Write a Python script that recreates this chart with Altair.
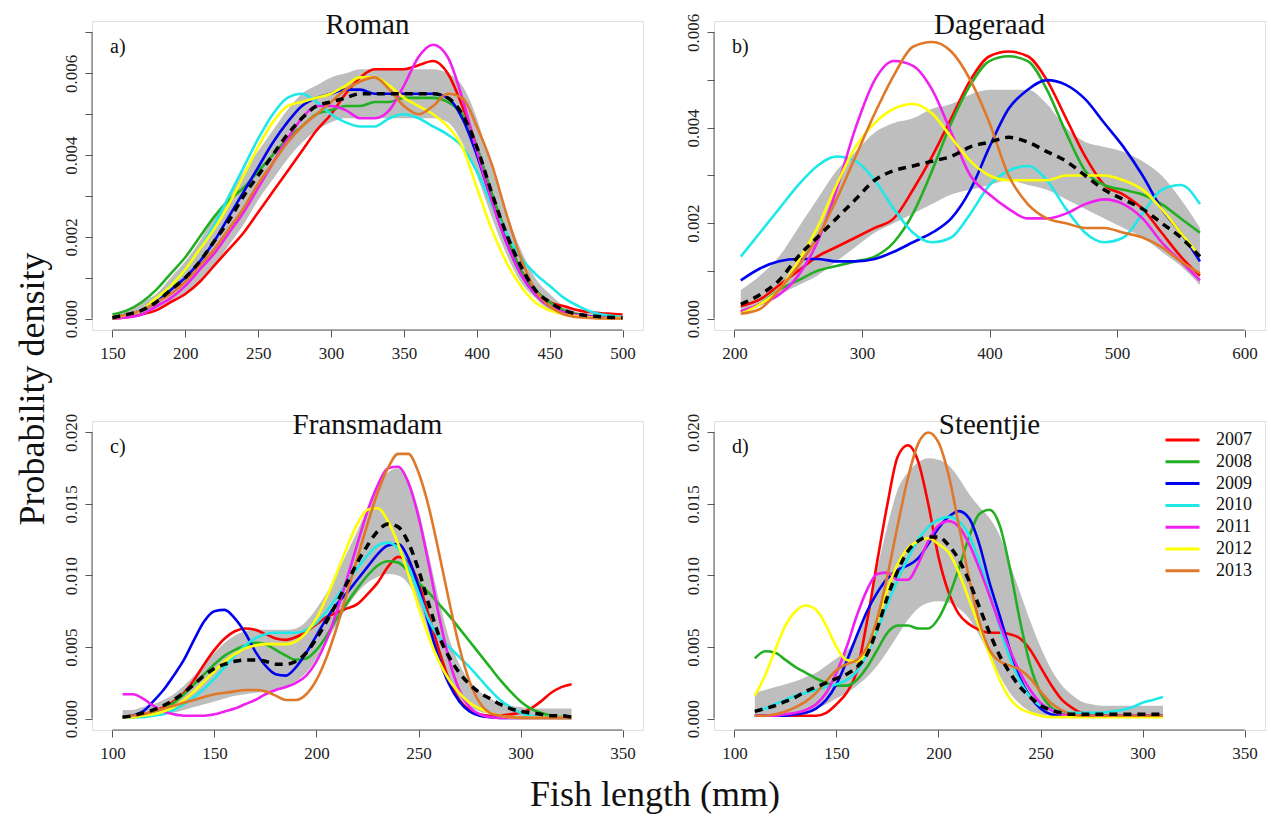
import altair as alt
import pandas as pd

FONT = "Liberation Serif"
YEARS = ["2007", "2008", "2009", "2010", "2011", "2012", "2013"]
COLORS = ["#FF0000", "#22B022", "#0000F0", "#1EE8E8", "#F020F0", "#FFFF00", "#E0782A"]
BAND = "#BEBEBE"
AXC = "#555555"

# ---------------- Panel a) Roman ----------------
A_X = list(range(150, 501, 10))
A_2007 = [0.0, 0.00003, 0.0001, 0.0002, 0.0004, 0.0006, 0.0009, 0.0013, 0.0017, 0.0021, 0.0026, 0.0031,
          0.0036, 0.0041, 0.0046, 0.0050, 0.0055, 0.0059, 0.0061, 0.0061, 0.0061, 0.0062, 0.0063, 0.0060,
          0.0052, 0.0042, 0.0030, 0.0020, 0.0012, 0.0007, 0.0004, 0.0003, 0.0002, 0.00015, 0.00012, 0.0001]
A_2008 = [0.0001, 0.0002, 0.0004, 0.0007, 0.0011, 0.0015, 0.0020, 0.0025, 0.0029, 0.0032, 0.0036, 0.0040,
          0.0044, 0.0047, 0.0050, 0.0051, 0.0052, 0.0052, 0.0053, 0.0053, 0.0054, 0.0054, 0.0054, 0.0053,
          0.0050, 0.0042, 0.0031, 0.0021, 0.0012, 0.0007, 0.0004, 0.0002, 0.0001, 0.00005, 0.00003, 0.00002]
A_2009 = [0.0, 0.0001, 0.0002, 0.0004, 0.0007, 0.0010, 0.0014, 0.0019, 0.0025, 0.0031, 0.0037, 0.0043,
          0.0048, 0.0052, 0.0054, 0.0055, 0.0056, 0.0056, 0.0055, 0.0055, 0.0055, 0.0055, 0.0055, 0.0054,
          0.0049, 0.0040, 0.0029, 0.0019, 0.0011, 0.0006, 0.0003, 0.00015, 0.00008, 0.00005, 0.00003, 0.00002]
A_2010 = [0.0, 0.0001, 0.0002, 0.0005, 0.0008, 0.0012, 0.0017, 0.0023, 0.0030, 0.0037, 0.0044, 0.0050,
          0.0054, 0.0055, 0.0053, 0.0050, 0.0048, 0.0047, 0.0047, 0.0049, 0.0050, 0.0049, 0.0047, 0.0045,
          0.0042, 0.0036, 0.0028, 0.0021, 0.0015, 0.0011, 0.0008, 0.0005, 0.0003, 0.00015, 0.00008, 0.00004]
A_2011 = [0.0, 0.00003, 0.0001, 0.0003, 0.0005, 0.0008, 0.0012, 0.0016, 0.0021, 0.0026, 0.0032, 0.0038,
          0.0044, 0.0049, 0.0052, 0.0052, 0.0051, 0.0049, 0.0049, 0.0051, 0.0057, 0.0064, 0.0067, 0.0064,
          0.0054, 0.0041, 0.0029, 0.0019, 0.0011, 0.0006, 0.0003, 0.00015, 0.00008, 0.00004, 0.00002, 0.00001]
A_2012 = [0.0, 0.0001, 0.0002, 0.0005, 0.0008, 0.0012, 0.0017, 0.0022, 0.0028, 0.0035, 0.0042, 0.0048,
          0.0052, 0.0053, 0.0054, 0.0055, 0.0057, 0.0059, 0.0059, 0.0057, 0.0054, 0.0052, 0.0050, 0.0047,
          0.0042, 0.0032, 0.0022, 0.0014, 0.0008, 0.0004, 0.0002, 0.0001, 0.00005, 0.00002, 0.00001, 0.00001]
A_2013 = [0.00003, 0.0001, 0.0002, 0.0004, 0.0006, 0.0009, 0.0013, 0.0017, 0.0022, 0.0027, 0.0033, 0.0038,
          0.0043, 0.0047, 0.0050, 0.0053, 0.0056, 0.0058, 0.0059, 0.0056, 0.0052, 0.0050, 0.0052, 0.0055,
          0.0054, 0.0047, 0.0038, 0.0026, 0.0015, 0.0007, 0.0003, 0.0001, 0.00003, 0.00001, 0.0, 0.0]
A_MEAN = [0.00002, 0.0001, 0.0002, 0.0004, 0.0007, 0.0010, 0.0014, 0.0019, 0.0024, 0.0030, 0.0035, 0.0040,
          0.0045, 0.0049, 0.0052, 0.0053, 0.0054, 0.0055, 0.0055, 0.0055, 0.0055, 0.0055, 0.0055, 0.0054,
          0.0050, 0.0042, 0.0031, 0.0021, 0.0013, 0.0007, 0.0004, 0.0002, 0.0001, 0.00006, 0.00003, 0.00002]
A_LO = [0.0, 0.00005, 0.0001, 0.0002, 0.0004, 0.0006, 0.0009, 0.0013, 0.0018, 0.0023, 0.0029, 0.0034,
        0.0039, 0.0043, 0.0046, 0.0048, 0.0049, 0.0049, 0.0049, 0.0049, 0.0049, 0.0049, 0.0049, 0.0048,
        0.0043, 0.0035, 0.0025, 0.0016, 0.0009, 0.0005, 0.0002, 0.0001, 0.00005, 0.00002, 0.00001, 0.0]
A_HI = [0.00005, 0.0002, 0.0004, 0.0006, 0.0010, 0.0014, 0.0019, 0.0025, 0.0030, 0.0036, 0.0041, 0.0046,
        0.0051, 0.0055, 0.0057, 0.0059, 0.0060, 0.0061, 0.0061, 0.0061, 0.0061, 0.0061, 0.0061, 0.0060,
        0.0057, 0.0049, 0.0037, 0.0026, 0.0017, 0.0010, 0.0006, 0.0003, 0.00015, 0.0001, 0.00005, 0.00004]

# ---------------- Panel b) Dageraad ----------------
B_X = list(range(205, 566, 15))
B_2007 = [0.00026, 0.0004, 0.0007, 0.0010, 0.0013, 0.0015, 0.0017, 0.0019, 0.0021, 0.0027, 0.0034, 0.0042,
          0.0050, 0.0055, 0.0056, 0.0055, 0.0050, 0.0042, 0.0034, 0.0028, 0.0026, 0.0023, 0.0018, 0.0013, 0.0009]
B_2008 = [0.00015, 0.0003, 0.0006, 0.0008, 0.0010, 0.0011, 0.0012, 0.0013, 0.0016, 0.0022, 0.0031, 0.0041,
          0.0049, 0.0054, 0.0055, 0.0054, 0.0048, 0.0039, 0.0031, 0.0028, 0.0027, 0.0026, 0.0024, 0.0021, 0.0018]
B_2009 = [0.0008, 0.00105, 0.0012, 0.00125, 0.00125, 0.0012, 0.0012, 0.00125, 0.0014, 0.0016, 0.0018, 0.0021,
          0.0027, 0.0036, 0.0044, 0.0048, 0.0050, 0.0049, 0.0046, 0.0041, 0.0036, 0.0030, 0.0023, 0.0018, 0.0012]
B_2010 = [0.0013, 0.0018, 0.0023, 0.0028, 0.0032, 0.0034, 0.0033, 0.0029, 0.0023, 0.0018, 0.0016, 0.0017,
          0.0022, 0.0028, 0.0031, 0.0032, 0.0029, 0.0023, 0.0018, 0.0016, 0.0017, 0.0022, 0.0027, 0.0028, 0.0024]
B_2011 = [0.00015, 0.0003, 0.0005, 0.0009, 0.0016, 0.0027, 0.0040, 0.0050, 0.0054, 0.0053, 0.0048, 0.0039,
          0.0030, 0.0026, 0.0023, 0.0021, 0.0021, 0.0022, 0.0024, 0.0025, 0.0024, 0.0021, 0.0016, 0.0012, 0.0008]
B_2012 = [0.0001, 0.0003, 0.0006, 0.0012, 0.0019, 0.0028, 0.0036, 0.0041, 0.0044, 0.0045, 0.0043, 0.0038,
          0.0033, 0.0030, 0.0029, 0.0029, 0.0029, 0.0030, 0.0030, 0.0030, 0.0029, 0.0027, 0.0023, 0.0018, 0.0013]
B_2013 = [0.0001, 0.0002, 0.0006, 0.0011, 0.0017, 0.0025, 0.0034, 0.0043, 0.0051, 0.0057, 0.0058, 0.0056,
          0.0050, 0.0041, 0.0030, 0.0024, 0.0021, 0.0020, 0.0019, 0.0019, 0.0018, 0.0017, 0.0015, 0.0012, 0.00095]
B_MEAN = [0.0003, 0.0005, 0.0008, 0.0013, 0.0017, 0.0021, 0.0025, 0.0029, 0.0031, 0.0032, 0.0033, 0.0034,
          0.0036, 0.0037, 0.0038, 0.0037, 0.0035, 0.0033, 0.0030, 0.0027, 0.0025, 0.0023, 0.0020, 0.0017, 0.0013]
B_LO = [0.00015, 0.0003, 0.0005, 0.0007, 0.0009, 0.0012, 0.0015, 0.0018, 0.0020, 0.0022, 0.0024, 0.0026,
        0.0027, 0.0028, 0.0029, 0.0028, 0.0027, 0.0025, 0.0023, 0.0021, 0.0019, 0.0017, 0.0014, 0.0011, 0.0007]
B_HI = [0.0006, 0.0009, 0.0013, 0.0019, 0.0025, 0.0031, 0.0035, 0.0039, 0.0041, 0.0042, 0.0044, 0.0045,
        0.0047, 0.0048, 0.0048, 0.0048, 0.0045, 0.0040, 0.0037, 0.0036, 0.0035, 0.0033, 0.0030, 0.0025, 0.0019]

# ---------------- Panel c) Fransmadam ----------------
C_X = list(range(105, 326, 5))
C_2007 = [0.0001, 0.0002, 0.0003, 0.0005, 0.0008, 0.0012, 0.0018, 0.0027, 0.0038, 0.0048, 0.0056, 0.0061,
          0.0063, 0.0062, 0.0059, 0.0056, 0.0055, 0.0057, 0.0061, 0.0066, 0.0071, 0.0074, 0.0077, 0.0080,
          0.0087, 0.0095, 0.0106, 0.0113, 0.0109, 0.0095, 0.0072, 0.0048, 0.0027, 0.0013, 0.0006, 0.0003,
          0.0002, 0.0002, 0.0003, 0.0004, 0.0007, 0.0012, 0.0018, 0.0022, 0.0024]
C_2008 = [0.0001, 0.0001, 0.0002, 0.0004, 0.0007, 0.0011, 0.0017, 0.0024, 0.0031, 0.0038, 0.0044, 0.0048,
          0.0051, 0.0053, 0.0052, 0.0048, 0.0044, 0.0041, 0.0042, 0.0048, 0.0058, 0.0070, 0.0081, 0.0091,
          0.0100, 0.0107, 0.0110, 0.0109, 0.0103, 0.0095, 0.0088, 0.0080, 0.0072, 0.0063, 0.0054, 0.0045,
          0.0036, 0.0027, 0.0019, 0.0012, 0.0007, 0.0004, 0.0002, 0.0001, 0.0001]
C_2009 = [0.0001, 0.0002, 0.0005, 0.0012, 0.0020, 0.0030, 0.0041, 0.0055, 0.0068, 0.0075, 0.0076, 0.0070,
          0.0060, 0.0047, 0.0037, 0.0031, 0.0030, 0.0036, 0.0046, 0.0058, 0.0070, 0.0080, 0.0088, 0.0097,
          0.0106, 0.0115, 0.0121, 0.0122, 0.0112, 0.0092, 0.0066, 0.0042, 0.0024, 0.0012, 0.0005, 0.0002,
          0.0001, 0.00005, 0.00005, 0.00005, 0.00005, 0.00005, 0.00005, 0.00005, 0.00005]
C_2010 = [0.0001, 0.0001, 0.0001, 0.0002, 0.0003, 0.0006, 0.0010, 0.0015, 0.0021, 0.0028, 0.0036, 0.0044,
          0.0051, 0.0056, 0.0059, 0.0060, 0.0060, 0.0060, 0.0062, 0.0067, 0.0075, 0.0085, 0.0095, 0.0105,
          0.0114, 0.0121, 0.0123, 0.0119, 0.0106, 0.0088, 0.0069, 0.0057, 0.0050, 0.0043, 0.0036, 0.0028,
          0.0020, 0.0013, 0.0008, 0.0004, 0.0002, 0.0001, 0.0001, 0.00005, 0.00005]
C_2011 = [0.0017, 0.0017, 0.0014, 0.0009, 0.0005, 0.0003, 0.0002, 0.0002, 0.0002, 0.0003, 0.0005, 0.0007,
          0.0010, 0.0013, 0.0017, 0.0020, 0.0022, 0.0025, 0.0030, 0.0040, 0.0055, 0.0075, 0.0098, 0.0122,
          0.0145, 0.0163, 0.0175, 0.0176, 0.0165, 0.0141, 0.0108, 0.0072, 0.0041, 0.0020, 0.0008, 0.0003,
          0.0001, 0.00005, 0.00005, 0.00005, 0.00005, 0.00005, 0.00005, 0.00005, 0.00005]
C_2012 = [0.0001, 0.0001, 0.0002, 0.0003, 0.0005, 0.0008, 0.0013, 0.0019, 0.0026, 0.0033, 0.0040, 0.0045,
          0.0049, 0.0051, 0.0052, 0.0052, 0.0052, 0.0054, 0.0060, 0.0070, 0.0085, 0.0102, 0.0120, 0.0136,
          0.0146, 0.0147, 0.0138, 0.0122, 0.0101, 0.0078, 0.0057, 0.0040, 0.0027, 0.0018, 0.0011, 0.0007,
          0.0004, 0.0002, 0.0001, 0.00005, 0.00005, 0.00005, 0.00005, 0.00005, 0.00005]
C_2013 = [0.0001, 0.0002, 0.0003, 0.0005, 0.0007, 0.0009, 0.0011, 0.0013, 0.0015, 0.0017, 0.0018, 0.0019,
          0.0020, 0.0020, 0.0019, 0.0016, 0.0013, 0.0013, 0.0017, 0.0027, 0.0043, 0.0064, 0.0088, 0.0112,
          0.0136, 0.0158, 0.0175, 0.0185, 0.0185, 0.0172, 0.0148, 0.0116, 0.0082, 0.0050, 0.0026, 0.0011,
          0.0004, 0.0002, 0.0001, 0.00005, 0.00005, 0.00005, 0.00005, 0.00005, 0.00005]
C_MEAN = [0.0001, 0.0002, 0.0004, 0.0006, 0.0009, 0.0013, 0.0018, 0.0024, 0.0030, 0.0035, 0.0038, 0.0040,
          0.0041, 0.0041, 0.0040, 0.0038, 0.0038, 0.0040, 0.0046, 0.0056, 0.0068, 0.0081, 0.0095, 0.0109,
          0.0121, 0.0131, 0.0136, 0.0134, 0.0123, 0.0104, 0.0080, 0.0058, 0.0043, 0.0032, 0.0024, 0.0018,
          0.0014, 0.0010, 0.0007, 0.0005, 0.0004, 0.0003, 0.0002, 0.0002, 0.0001]
C_LO = [0.0, 0.0001, 0.0001, 0.0002, 0.0003, 0.0004, 0.0006, 0.0008, 0.0010, 0.0012, 0.0014, 0.0016,
        0.0017, 0.0018, 0.0019, 0.0020, 0.0022, 0.0026, 0.0032, 0.0042, 0.0054, 0.0066, 0.0078, 0.0088,
        0.0095, 0.0099, 0.0101, 0.0100, 0.0094, 0.0080, 0.0060, 0.0040, 0.0025, 0.0014, 0.0008, 0.0005,
        0.0003, 0.0002, 0.0001, 0.0001, 0.0001, 0.0001, 0.0001, 0.0001, 0.0001]
C_HI = [0.0006, 0.0006, 0.0008, 0.0010, 0.0013, 0.0017, 0.0023, 0.0030, 0.0038, 0.0046, 0.0053, 0.0058,
        0.0061, 0.0062, 0.0062, 0.0062, 0.0062, 0.0063, 0.0068, 0.0077, 0.0088, 0.0101, 0.0116, 0.0131,
        0.0147, 0.0161, 0.0172, 0.0175, 0.0167, 0.0146, 0.0115, 0.0083, 0.0056, 0.0038, 0.0026, 0.0019,
        0.0014, 0.0011, 0.0009, 0.0008, 0.0007, 0.0007, 0.0007, 0.0007, 0.0007]

# ---------------- Panel d) Steentjie ----------------
D_X = list(range(110, 311, 5))
D_2007 = [0.0002, 0.0002, 0.0002, 0.0002, 0.0002, 0.0002, 0.0002, 0.0004, 0.0010, 0.0018, 0.0033, 0.0068,
          0.0110, 0.0150, 0.0183, 0.0191, 0.0180, 0.0150, 0.0113, 0.0088, 0.0073, 0.0066, 0.0062, 0.0060,
          0.0060, 0.0059, 0.0056, 0.0048, 0.0036, 0.0024, 0.0014, 0.0008, 0.0004, 0.0003, 0.0002, 0.0002,
          0.0002, 0.0002, 0.0002, 0.0002, 0.0002]
D_2008 = [0.0042, 0.0047, 0.0046, 0.0041, 0.0036, 0.0032, 0.0028, 0.0025, 0.0023, 0.0023, 0.0027, 0.0036,
          0.0048, 0.0060, 0.0065, 0.0065, 0.0063, 0.0063, 0.0070, 0.0085, 0.0105, 0.0127, 0.0143, 0.0146,
          0.0135, 0.0105, 0.0068, 0.0037, 0.0018, 0.0008, 0.0004, 0.0002, 0.0002, 0.0002, 0.0002, 0.0002,
          0.0002, 0.0002, 0.0002, 0.0002, 0.0002]
D_2009 = [0.0002, 0.0002, 0.0002, 0.0002, 0.0003, 0.0004, 0.0007, 0.0013, 0.0024, 0.0040, 0.0058, 0.0075,
          0.0088, 0.0098, 0.0104, 0.0107, 0.0112, 0.0122, 0.0133, 0.0141, 0.0145, 0.0140, 0.0122, 0.0095,
          0.0072, 0.0048, 0.0028, 0.0015, 0.0007, 0.0003, 0.0002, 0.0002, 0.0002, 0.0002, 0.0002, 0.0002,
          0.0002, 0.0002, 0.0002, 0.0002, 0.0002]
D_2010 = [0.0005, 0.0007, 0.0010, 0.0013, 0.0016, 0.0018, 0.0020, 0.0022, 0.0024, 0.0027, 0.0033, 0.0045,
          0.0062, 0.0080, 0.0097, 0.0112, 0.0125, 0.0134, 0.0139, 0.0141, 0.0138, 0.0128, 0.0110, 0.0088,
          0.0064, 0.0042, 0.0026, 0.0015, 0.0009, 0.0006, 0.0005, 0.0004, 0.0004, 0.0004, 0.0004, 0.0005,
          0.0006, 0.0008, 0.0011, 0.0013, 0.0015]
D_2011 = [0.0002, 0.0002, 0.0002, 0.0003, 0.0004, 0.0006, 0.0010, 0.0018, 0.0032, 0.0050, 0.0072, 0.0090,
          0.0101, 0.0102, 0.0097, 0.0097, 0.0108, 0.0124, 0.0135, 0.0138, 0.0134, 0.0122, 0.0105, 0.0086,
          0.0066, 0.0048, 0.0032, 0.0020, 0.0011, 0.0006, 0.0003, 0.0002, 0.0002, 0.0002, 0.0002, 0.0002,
          0.0002, 0.0002, 0.0002, 0.0002, 0.0002]
D_2012 = [0.0016, 0.0030, 0.0048, 0.0065, 0.0075, 0.0079, 0.0076, 0.0065, 0.0050, 0.0041, 0.0040, 0.0048,
          0.0068, 0.0090, 0.0108, 0.0119, 0.0124, 0.0126, 0.0122, 0.0116, 0.0102, 0.0083, 0.0064, 0.0045,
          0.0027, 0.0014, 0.0007, 0.0004, 0.0002, 0.0001, 0.0001, 0.0001, 0.0001, 0.0001, 0.0001, 0.0001,
          0.0001, 0.0001, 0.0001, 0.0001, 0.0001]
D_2013 = [0.0002, 0.0002, 0.0003, 0.0005, 0.0008, 0.0012, 0.0018, 0.0026, 0.0034, 0.0038, 0.0041, 0.0050,
          0.0070, 0.0100, 0.0135, 0.0168, 0.0192, 0.0200, 0.0193, 0.0170, 0.0135, 0.0098, 0.0068, 0.0048,
          0.0040, 0.0037, 0.0034, 0.0028, 0.0019, 0.0011, 0.0006, 0.0003, 0.0002, 0.0002, 0.0002, 0.0002,
          0.0002, 0.0002, 0.0002, 0.0002, 0.0002]
D_MEAN = [0.0005, 0.0007, 0.0009, 0.0012, 0.0015, 0.0019, 0.0022, 0.0025, 0.0028, 0.0031, 0.0036, 0.0045,
          0.0063, 0.0085, 0.0103, 0.0117, 0.0124, 0.0127, 0.0127, 0.0121, 0.0111, 0.0096, 0.0078, 0.0060,
          0.0044, 0.0032, 0.0022, 0.0015, 0.0009, 0.0006, 0.0004, 0.0003, 0.0003, 0.0003, 0.0003, 0.0003,
          0.0003, 0.0003, 0.0003, 0.0003, 0.0003]
D_LO = [0.0001, 0.0001, 0.0002, 0.0003, 0.0004, 0.0005, 0.0007, 0.0010, 0.0014, 0.0018, 0.0023, 0.0029,
        0.0037, 0.0047, 0.0058, 0.0069, 0.0077, 0.0081, 0.0082, 0.0081, 0.0077, 0.0070, 0.0058, 0.0044,
        0.0030, 0.0018, 0.0010, 0.0005, 0.0003, 0.0002, 0.0002, 0.0002, 0.0002, 0.0002, 0.0002, 0.0002,
        0.0002, 0.0002, 0.0002, 0.0002, 0.0002]
D_HI = [0.0018, 0.0020, 0.0022, 0.0024, 0.0026, 0.0029, 0.0032, 0.0037, 0.0042, 0.0047, 0.0058, 0.0075,
        0.0105, 0.0135, 0.0160, 0.0172, 0.0179, 0.0182, 0.0181, 0.0177, 0.0168, 0.0157, 0.0148, 0.0140,
        0.0128, 0.0108, 0.0088, 0.0068, 0.0050, 0.0035, 0.0024, 0.0017, 0.0012, 0.0010, 0.0009, 0.0009,
        0.0009, 0.0009, 0.0009, 0.0009, 0.0009]

# Axis ticks and titles
A_XTICKS = [150, 200, 250, 300, 350, 400, 450, 500]
B_XTICKS = [200, 300, 400, 500, 600]
CD_XTICKS = [100, 150, 200, 250, 300, 350]
A_YTICKS = [0.0, 0.001, 0.002, 0.003, 0.004, 0.005, 0.006, 0.007]
B_YTICKS = [0.0, 0.001, 0.002, 0.003, 0.004, 0.005, 0.006]
CD_YTICKS = [0.0, 0.005, 0.010, 0.015, 0.020]
TITLES = ["Roman", "Dageraad", "Fransmadam", "Steentjie"]
LETTERS = ["a)", "b)", "c)", "d)"]
YLAB = "Probability density"
XLAB = "Fish length (mm)"

W, H = 551, 309
EVEN_EXPR = "round(datum.value * 1000) % 2 == 0 ? format(datum.value, '.3f') : ''"
ALL_EXPR = "format(datum.value, '.3f')"


def one_row():
    return alt.Data(values=[{"k": 1}])


def make_panel(xs, curves, mean, lo, hi, xdom, ydom, xticks, yticks, label_expr,
               title, letter, legend=None, extra=None):
    rows = []
    for yr, vals in zip(YEARS, curves):
        for xv, v in zip(xs, vals):
            rows.append({"x": xv, "y": v, "year": yr})
    lines_df = pd.DataFrame(rows)
    band_df = pd.DataFrame({"x": xs, "lo": lo, "hi": hi})
    mean_df = pd.DataFrame({"x": xs, "m": mean})

    xaxis = alt.Axis(values=xticks, domain=False, grid=False, tickSize=7, tickColor=AXC,
                     tickWidth=1, labelFont=FONT, labelFontSize=17, labelColor="#222222",
                     labelBaseline="alphabetic", labelPadding=21, labelOverlap=False,
                     labelFlush=False, format="d")
    yaxis = alt.Axis(values=yticks, domain=False, grid=False, tickSize=7, tickColor=AXC,
                     tickWidth=1, labelFont=FONT, labelFontSize=17, labelColor="#222222",
                     labelAngle=270, labelAlign="center", labelBaseline="alphabetic",
                     labelPadding=9, labelOverlap=False, labelFlush=False, labelExpr=label_expr)
    xsc = alt.Scale(domain=xdom, nice=False, zero=False)
    ysc = alt.Scale(domain=ydom, nice=False, zero=False)

    band = alt.Chart(band_df).mark_area(color=BAND, interpolate="monotone").encode(
        x=alt.X("x:Q", scale=xsc, axis=xaxis, title=None),
        y=alt.Y("lo:Q", scale=ysc, axis=yaxis, title=None),
        y2="hi:Q",
    )
    lines = alt.Chart(lines_df).mark_line(strokeWidth=2.6, interpolate="monotone").encode(
        x=alt.X("x:Q", scale=xsc, axis=xaxis, title=None),
        y=alt.Y("y:Q", scale=ysc, axis=yaxis, title=None),
        color=alt.Color("year:N", scale=alt.Scale(domain=YEARS, range=COLORS), legend=legend),
    )
    meanl = alt.Chart(mean_df).mark_line(color="black", strokeWidth=3.5, strokeDash=[8, 6],
                                         interpolate="monotone").encode(
        x=alt.X("x:Q", scale=xsc, axis=xaxis, title=None),
        y=alt.Y("m:Q", scale=ysc, axis=yaxis, title=None),
    )
    xline = alt.Chart(one_row()).mark_rule(color=AXC, strokeWidth=1).encode(
        x=alt.datum(xticks[0]), x2=alt.datum(xticks[-1]), y=alt.value(H))
    yline = alt.Chart(one_row()).mark_rule(color=AXC, strokeWidth=1).encode(
        y=alt.datum(yticks[0]), y2=alt.datum(yticks[-1]), x=alt.value(0))
    ttl = alt.Chart(one_row()).mark_text(text=title, font=FONT, fontSize=29, align="center",
                                         baseline="alphabetic", color="#111111").encode(
        x=alt.value(W / 2), y=alt.value(13))
    let = alt.Chart(one_row()).mark_text(text=letter, font=FONT, fontSize=20, align="left",
                                         baseline="middle", color="#111111").encode(
        x=alt.value(18), y=alt.value(26))
    layers = [band, lines, meanl, xline, yline, ttl, let]
    if extra:
        layers += extra
    return alt.layer(*layers).properties(width=W, height=H)


legend_d = alt.Legend(orient="none", legendX=450, legendY=10, title=None, symbolType="stroke",
                      symbolStrokeWidth=3, symbolSize=1156, labelFont=FONT, labelFontSize=18,
                      labelColor="#111111", clipHeight=18, rowPadding=3.8, labelOffset=15,
                      padding=0)

ylab = alt.Chart(one_row()).mark_text(text=YLAB, font=FONT, fontSize=36, angle=270,
                                      align="center", baseline="middle", color="#111111").encode(
    x=alt.value(-59), y=alt.value(-32))
xlab = alt.Chart(one_row()).mark_text(text=XLAB, font=FONT, fontSize=36, align="center",
                                      baseline="alphabetic", color="#111111").encode(
    x=alt.value(563), y=alt.value(385))

pa = make_panel(A_X, [A_2007, A_2008, A_2009, A_2010, A_2011, A_2012, A_2013], A_MEAN, A_LO, A_HI,
                [136, 514], [-0.00028, 0.00728], A_XTICKS, A_YTICKS, EVEN_EXPR,
                TITLES[0], LETTERS[0])
pb = make_panel(B_X, [B_2007, B_2008, B_2009, B_2010, B_2011, B_2012, B_2013], B_MEAN, B_LO, B_HI,
                [184, 616], [-0.00024, 0.00624], B_XTICKS, B_YTICKS, EVEN_EXPR,
                TITLES[1], LETTERS[1])
pc = make_panel(C_X, [C_2007, C_2008, C_2009, C_2010, C_2011, C_2012, C_2013], C_MEAN, C_LO, C_HI,
                [90, 360], [-0.0008, 0.0208], CD_XTICKS, CD_YTICKS, ALL_EXPR,
                TITLES[2], LETTERS[2], extra=[ylab, xlab])
pd_ = make_panel(D_X, [D_2007, D_2008, D_2009, D_2010, D_2011, D_2012, D_2013], D_MEAN, D_LO, D_HI,
                 [90, 360], [-0.0008, 0.0208], CD_XTICKS, CD_YTICKS, ALL_EXPR,
                 TITLES[3], LETTERS[3], legend=legend_d)

chart = alt.concat(
    pa, pb, pc, pd_, columns=2, bounds="flush",
    spacing=alt.RowColnumber(row=91, column=71),
).resolve_legend(color="independent").properties(
    padding={"left": 14, "top": 10, "right": 5, "bottom": 5}
).configure_view(stroke=None).configure(font=FONT, background="white")

chart.save("out.html", embed_options={"renderer": "svg", "actions": False})
